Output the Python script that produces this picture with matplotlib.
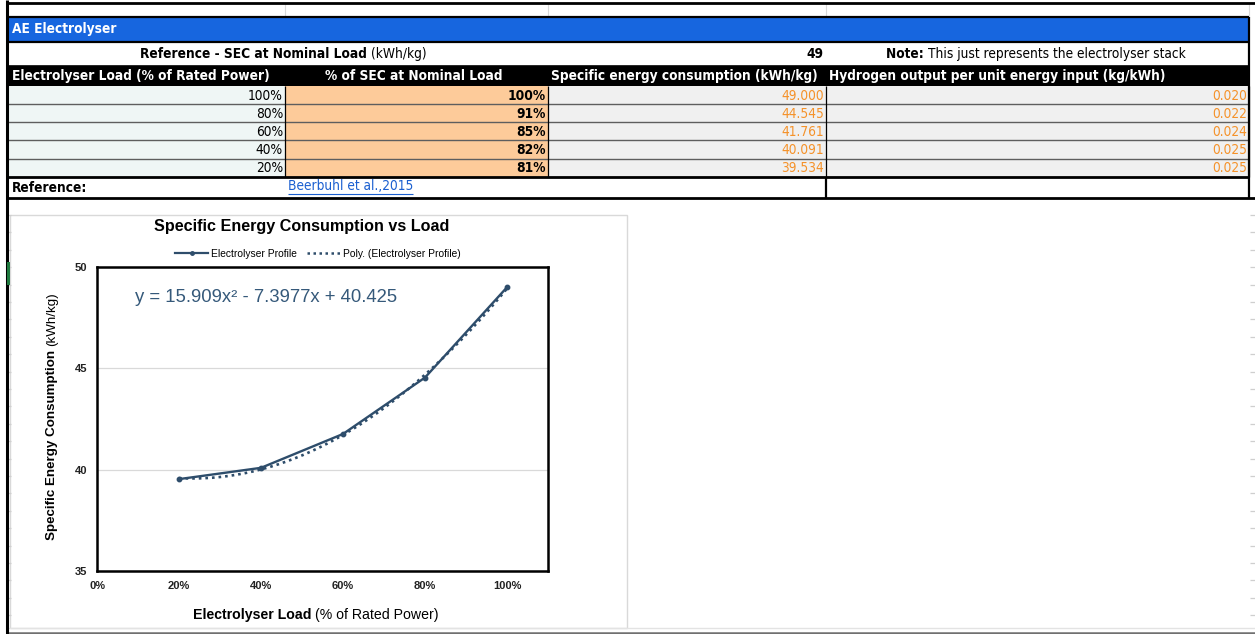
import numpy as np
import matplotlib
matplotlib.use("Agg")
import matplotlib.pyplot as plt
from matplotlib.patches import Rectangle
from matplotlib.lines import Line2D
from matplotlib.ticker import FuncFormatter
from matplotlib import font_manager as fm

# electrolyser part-load table
loads = [100, 80, 60, 40, 20]                      # % of rated power
sec_pct = [100, 91, 85, 82, 81]                    # % of SEC at nominal load
sec = [49.000, 44.545, 41.761, 40.091, 39.534]     # kWh/kg
nominal_sec = 49
h2_out = [1.0 / s for s in sec]                    # kg/kWh
poly_coef = [15.909, -7.3977, 40.425]              # quadratic trendline
source = "Beerbuhl et al.,2015"

# narrow face for the sheet cells if one is around
STRETCH = "normal"
NARROW = ["Liberation Sans", "DejaVu Sans"]
TSIZE = 9.4
for fam, st in [("Liberation Sans Narrow", "normal"), ("Arial Narrow", "normal"),
                ("DejaVu Sans", "condensed")]:
    try:
        path = fm.findfont(fm.FontProperties(family=fam, stretch=st),
                           fallback_to_default=False)
    except ValueError:
        continue
    if "Narrow" in path or "Condensed" in path:
        NARROW, STRETCH, TSIZE = [fam, "DejaVu Sans"], st, 9.8
        break

ARIAL = ["Liberation Sans", "DejaVu Sans"]
BLUE = "#1766DF"
PEACH = "#FDCB9A"
LIGHT = "#EFF6F5"
GREY = "#F0F0F0"
ORANGE = "#F5922A"
LINE = "#2E4D6B"

W, H = 1255, 634
fig = plt.figure(figsize=(W / 100, H / 100), dpi=100)
bg = fig.add_axes([0, 0, 1, 1])
bg.set_xlim(0, W)
bg.set_ylim(H, 0)
bg.axis("off")
renderer = fig.canvas.get_renderer()


def rect(x0, y0, x1, y1, color, z=1):
    bg.add_patch(Rectangle((x0, y0), x1 - x0, y1 - y0, facecolor=color,
                           edgecolor="none", zorder=z))


def hline(y, x0, x1, color="black", lw=1.0, z=3):
    bg.plot([x0, x1], [y, y], color=color, lw=lw, zorder=z,
            solid_capstyle="butt")


def vline(x, y0, y1, color="black", lw=1.0, z=3):
    bg.plot([x, x], [y0, y1], color=color, lw=lw, zorder=z,
            solid_capstyle="butt")


def cell(x, y, txt, ha="left", weight="normal", color="black"):
    return bg.text(x, y, txt, fontsize=TSIZE, fontweight=weight, family=NARROW,
                   fontstretch=STRETCH, color=color, ha=ha, va="center",
                   zorder=5)


def rich(x, y, parts, ha="left", size=None, family=None):
    # lay out (text, weight) pieces side by side on one line
    items = []
    for txt, wt in parts:
        if family is None:
            t = cell(0, y, txt, weight=wt)
        else:
            t = bg.text(0, y, txt, fontsize=size, fontweight=wt, family=family,
                        va="center", ha="left", zorder=5)
        items.append((t, t.get_window_extent(renderer).width))
    total = sum(w for _, w in items)
    if ha == "center":
        x = x - total / 2
    elif ha == "right":
        x = x - total
    for t, w in items:
        t.set_x(x)
        x += w
    return items


# column edges and row edges
cx = [8, 285, 548, 826, 1249]
r_blue = (17, 42)
r_ref = (42, 66)
r_head = (66, 86)
r_data = [86, 104, 122, 140, 159, 177]
r_src = (177, 198)

# empty row above the block
for x in cx[1:]:
    vline(x, 3, 17, color="#D9D9D9", lw=0.8)

rect(cx[0], r_blue[0], cx[-1], r_blue[1], BLUE)
cell(12, sum(r_blue) / 2, "AE Electrolyser", weight="bold", color="white")

rich(283, sum(r_ref) / 2, [("Reference - SEC at Nominal Load ", "bold"),
                           ("(kWh/kg)", "normal")], ha="center")
cell(cx[3] - 3, sum(r_ref) / 2, f"{nominal_sec}", ha="right", weight="bold")
rich(886, sum(r_ref) / 2, [("Note: ", "bold"),
                           ("This just represents the electrolyser stack", "normal")])

rect(cx[0], r_head[0], cx[-1], r_head[1], "black")
yh = sum(r_head) / 2
cell(12, yh, "Electrolyser Load (% of Rated Power)", weight="bold", color="white")
cell(414, yh, "% of SEC at Nominal Load", ha="center", weight="bold", color="white")
cell(684, yh, "Specific energy consumption (kWh/kg)", ha="center", weight="bold",
     color="white")
cell(829, yh, "Hydrogen output per unit energy input (kg/kWh)", weight="bold",
     color="white")

fills = [LIGHT, PEACH, GREY, GREY]
for i in range(len(loads)):
    y0, y1 = r_data[i], r_data[i + 1]
    ym = (y0 + y1) / 2 + 0.5
    for c in range(4):
        rect(cx[c], y0, cx[c + 1], y1, fills[c])
    vals = [(f"{loads[i]}%", "normal", "black"),
            (f"{sec_pct[i]}%", "bold", "black"),
            (f"{sec[i]:.3f}", "normal", ORANGE),
            (f"{h2_out[i]:.3f}", "normal", ORANGE)]
    for c, (txt, wt, col) in enumerate(vals):
        cell(cx[c + 1] - 2, ym, txt, ha="right", weight=wt, color=col)
    if i > 0:
        hline(y0, cx[0], cx[-1], color="#5E5E5E", lw=1.0)
for x in cx[1:]:
    vline(x, r_data[0], r_data[-1], lw=0.9)

cell(12, sum(r_src) / 2, "Reference:", weight="bold")
link = cell(288, sum(r_src) / 2 - 1, source, color="#1A5FD0")
lw_px = link.get_window_extent(renderer).width
hline(sum(r_src) / 2 + 6, 288, 288 + lw_px, color="#1A5FD0", lw=0.8)
vline(cx[3], r_src[0], r_src[1], lw=1.6)
vline(cx[4], r_src[0], r_src[1], lw=1.6)

# block borders
hline(2.5, 6, W, lw=2.0)
hline(r_blue[0], cx[0], cx[-1], lw=1.6)
hline(r_blue[1], cx[0], cx[-1], lw=1.6)
hline(r_head[0], cx[0], cx[-1], lw=1.2)
hline(r_data[-1], cx[0], cx[-1], lw=2.0)
hline(r_src[1], cx[0], W, lw=2.0)
vline(cx[-1], r_blue[0], r_data[-1], lw=1.6)
for yy in np.arange(215, 630, 17.4):
    hline(yy, 1250, W, color="#CFCFCF", lw=0.9)
    hline(yy, 8, 11, color="#CFCFCF", lw=0.9)

# left border and the bottom edge of the window
vline(7, 0, H, lw=2.2, z=6)
rect(6.5, 262, 9.5, 285, "#1F7A3F", z=7)
hline(628, 8, W, color="#E3E3E3", lw=1.0)
hline(633, 8, W, color="#707070", lw=1.8)

# chart frame
bg.add_patch(Rectangle((10, 215), 617, 413, facecolor="white",
                       edgecolor="#D9D9D9", lw=1.0, zorder=2))

# chart
px0, px1, py0, py1 = 97, 548, 267, 571
ax = fig.add_axes([px0 / W, (H - py1) / H, (px1 - px0) / W, (py1 - py0) / H])
ax.set_zorder(10)
ax.set_facecolor("white")

x = np.array(loads) / 100
ax.plot(x, sec, color=LINE, lw=1.7, marker="o", ms=3.2,
        label="Electrolyser Profile")
xf = np.linspace(min(x), max(x), 200)
ax.plot(xf, np.polyval(poly_coef, xf), color=LINE, lw=1.9,
        linestyle=(0, (1, 1.5)), label="Poly. (Electrolyser Profile)")

ax.set_xlim(0, 1.1)
ax.set_ylim(35, 50)
ax.set_xticks([0, 0.2, 0.4, 0.6, 0.8, 1.0])
ax.set_yticks([35, 40, 45, 50])
ax.xaxis.set_major_formatter(FuncFormatter(lambda v, p: f"{v * 100:.0f}%"))
ax.tick_params(length=0, labelsize=8, colors="#222222")
for lab in ax.get_xticklabels() + ax.get_yticklabels():
    lab.set_fontweight("bold")
    lab.set_family(ARIAL)
ax.tick_params(axis="x", pad=7)
ax.tick_params(axis="y", pad=7)
ax.grid(axis="y", color="#D9D9D9", lw=0.9)
ax.set_axisbelow(True)
for s in ax.spines.values():
    s.set_linewidth(1.8)
    s.set_color("black")

ax.text((135 - px0) / (px1 - px0), 1 - (298 - py0) / (py1 - py0),
        "y = 15.909x² - 7.3977x + 40.425", transform=ax.transAxes,
        fontsize=13.3, color="#35597A", family=ARIAL, va="center")

fig.text(302 / W, 1 - 227 / H, "Specific Energy Consumption vs Load",
         fontsize=11.6, fontweight="bold", family=ARIAL, ha="center",
         va="center", zorder=12)

handles = [Line2D([], [], color=LINE, lw=1.6, marker="o", ms=2.5),
           Line2D([], [], color=LINE, lw=1.8, linestyle=(0, (1, 1.4)))]
fig.legend(handles, ["Electrolyser Profile", "Poly. (Electrolyser Profile)"],
           loc="center", bbox_to_anchor=(318 / W, 1 - 254 / H), ncol=2,
           frameon=False, prop={"family": ARIAL, "size": 7.4},
           handlelength=3.2, handletextpad=0.3, columnspacing=1.0)

# axis titles with a bold lead and plain units
rich(316, 615, [("Electrolyser Load ", "bold"), ("(% of Rated Power)", "normal")],
     ha="center", size=10.2, family=ARIAL)
yl = []
for txt, wt in [("Specific Energy Consumption ", "bold"), ("(kWh/kg)", "normal")]:
    t = bg.text(52, 0, txt, fontsize=9.6, fontweight=wt, family=ARIAL,
                rotation=90, ha="center", va="bottom", zorder=5)
    yl.append((t, t.get_window_extent(renderer).height))
yy = 416 + sum(h for _, h in yl) / 2
for t, h in yl:
    t.set_y(yy)
    yy -= h

fig.savefig("out.png", dpi=100)
